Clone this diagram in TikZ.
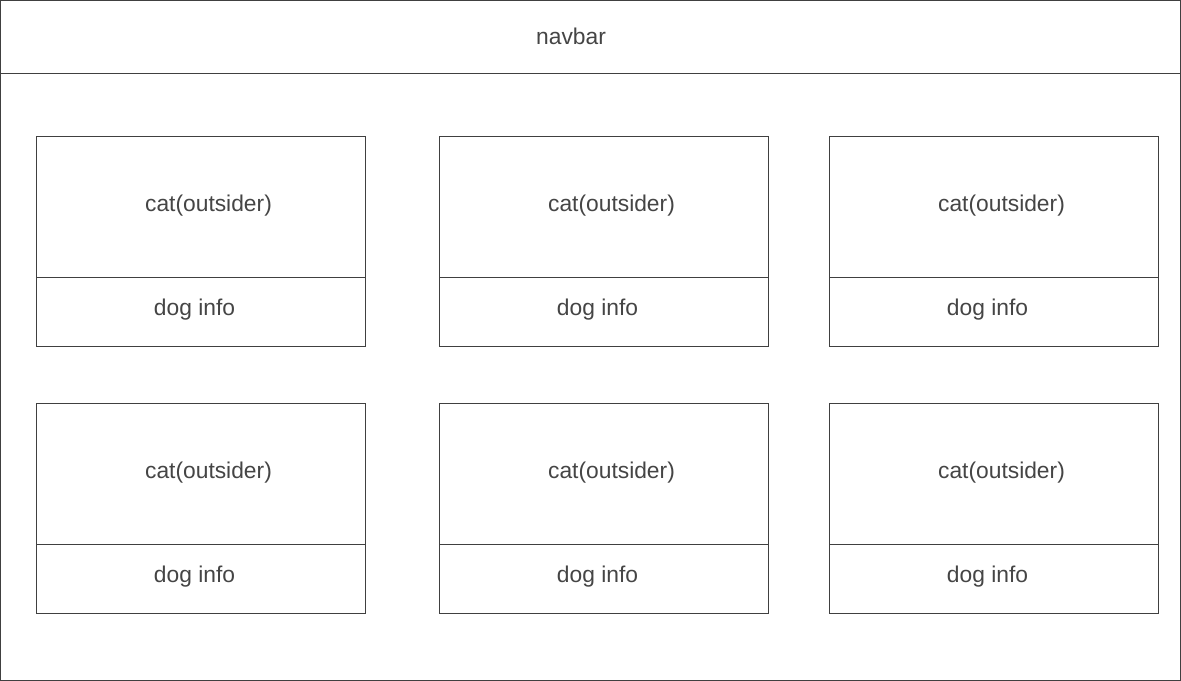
\documentclass[tikz,border=0pt]{standalone}
\usepackage{fontspec}
\setmainfont{Liberation Sans}
\definecolor{linec}{HTML}{404040}
\definecolor{textc}{HTML}{454545}
\begin{document}
\begin{tikzpicture}[x=0.75pt,y=-0.75pt,
  box/.style={draw=linec,line width=0.75pt},
  lbl/.style={text=textc,font=\fontsize{17.1pt}{20pt}\selectfont,anchor=base,inner sep=0pt}]
\useasboundingbox (0,0) rectangle (1181,681);
\fill[white] (0,0) rectangle (1181,681);
\draw[box,line width=1.1pt] (0.7,0.7) rectangle (1180.3,680.3);
\draw[box] (0.7,73.5) -- (1180.3,73.5);
\node[lbl] (nav) at (571,45) {navbar};
\foreach \r/\yt in {1/136.5,2/403.5}{
  \foreach \c/\xl in {1/36.5,2/439.5,3/829.5}{
    \draw[box] (\xl,\yt) rectangle ++(329,210);
    \draw[box] (\xl,\yt+141) -- ++(329,0);
    \node[lbl] (cat\r\c) at (\xl+172,\yt+75) {cat(outsider)};
    \node[lbl] (dog\r\c) at (\xl+158,\yt+178.5) {dog info};
  }
}
\end{tikzpicture}
\end{document}
